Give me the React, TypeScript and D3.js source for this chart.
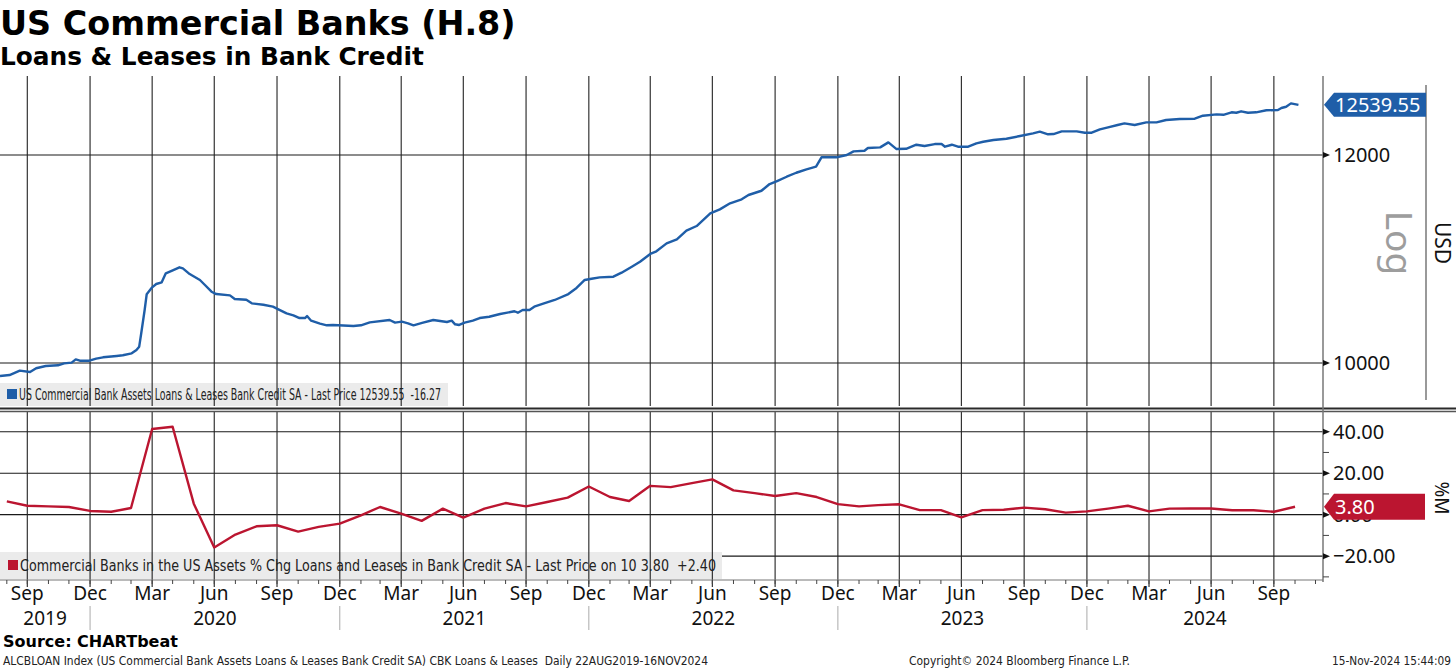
import React, { useEffect, useRef } from "react";
import * as d3 from "d3";

const WIDTH = 1456;
const HEIGHT = 669;

// US Commercial Bank Assets Loans & Leases Bank Credit SA (USD bn, weekly readings)
const loanDates = [
  "2019-08-22", "2019-09-05", "2019-09-20", "2019-10-05", "2019-10-14", "2019-10-28", "2019-11-15", "2019-11-24",
  "2019-12-05", "2019-12-11", "2019-12-17", "2019-12-31", "2020-01-10", "2020-01-20", "2020-02-09", "2020-02-18",
  "2020-03-02", "2020-03-09", "2020-03-13", "2020-03-16", "2020-03-21", "2020-03-24", "2020-04-01", "2020-04-07",
  "2020-04-15", "2020-04-21", "2020-05-02", "2020-05-11", "2020-05-16", "2020-05-26", "2020-06-10", "2020-06-17",
  "2020-06-27", "2020-07-04", "2020-07-24", "2020-07-31", "2020-08-17", "2020-08-25", "2020-09-11", "2020-09-25",
  "2020-10-03", "2020-10-15", "2020-10-25", "2020-11-03", "2020-11-11", "2020-11-14", "2020-11-20", "2020-12-03",
  "2020-12-13", "2020-12-22", "2021-01-21", "2021-02-01", "2021-02-14", "2021-03-15", "2021-03-23", "2021-04-02",
  "2021-04-11", "2021-04-19", "2021-05-03", "2021-05-18", "2021-06-07", "2021-06-14", "2021-06-19", "2021-06-25",
  "2021-07-03", "2021-07-15", "2021-07-25", "2021-08-08", "2021-08-24", "2021-09-14", "2021-09-19", "2021-09-26",
  "2021-10-06", "2021-10-13", "2021-10-25", "2021-11-12", "2021-12-02", "2021-12-14", "2021-12-26", "2022-01-05",
  "2022-01-17", "2022-02-06", "2022-02-18", "2022-03-05", "2022-03-17", "2022-04-01", "2022-04-10", "2022-04-25",
  "2022-05-10", "2022-05-24", "2022-06-08", "2022-06-28", "2022-07-12", "2022-07-27", "2022-08-13", "2022-08-23",
  "2022-09-11", "2022-09-23", "2022-10-03", "2022-10-18", "2022-11-01", "2022-11-16", "2022-11-30", "2022-12-08",
  "2022-12-30", "2023-01-14", "2023-01-24", "2023-02-09", "2023-02-14", "2023-03-04", "2023-03-16", "2023-03-28",
  "2023-04-11", "2023-04-26", "2023-05-08", "2023-05-23", "2023-06-02", "2023-06-07", "2023-06-17", "2023-06-26",
  "2023-07-11", "2023-07-23", "2023-08-02", "2023-08-17", "2023-09-05", "2023-09-25", "2023-10-14", "2023-10-24",
  "2023-11-05", "2023-11-13", "2023-11-25", "2023-12-17", "2023-12-29", "2024-01-08", "2024-01-20", "2024-02-01",
  "2024-02-15", "2024-02-25", "2024-03-11", "2024-03-28", "2024-04-12", "2024-04-26", "2024-05-16", "2024-06-07",
  "2024-06-19", "2024-07-09", "2024-07-19", "2024-07-31", "2024-08-07", "2024-08-14", "2024-08-24", "2024-09-05",
  "2024-09-20", "2024-10-07", "2024-10-12", "2024-10-19", "2024-10-26", "2024-11-06",
];
const loanValues = [
  9887, 9895, 9933, 9921, 9954, 9974, 9980, 9997,
  10003, 10032, 10020, 10020, 10038, 10050, 10062, 10068,
  10085, 10115, 10144, 10264, 10476, 10621, 10686, 10717,
  10733, 10818, 10849, 10875, 10865, 10811, 10755, 10710,
  10645, 10623, 10611, 10577, 10570, 10537, 10524, 10506,
  10482, 10445, 10427, 10402, 10402, 10420, 10378, 10351,
  10336, 10339, 10330, 10336, 10363, 10384, 10360, 10369,
  10354, 10336, 10360, 10384, 10366, 10378, 10345, 10339,
  10360, 10378, 10402, 10414, 10439, 10464, 10451, 10476,
  10476, 10506, 10531, 10568, 10623, 10680, 10755, 10767,
  10780, 10786, 10824, 10881, 10929, 11003, 11029, 11106,
  11145, 11230, 11276, 11402, 11442, 11503, 11543, 11587,
  11630, 11699, 11726, 11774, 11815, 11851, 11878, 11976,
  11976, 12000, 12039, 12045, 12074, 12081, 12134, 12063,
  12066, 12109, 12095, 12116, 12116, 12088, 12109, 12088,
  12088, 12124, 12141, 12159, 12173, 12202, 12230, 12248,
  12220, 12223, 12252, 12252, 12237, 12237, 12273, 12295,
  12320, 12338, 12320, 12349, 12349, 12374, 12385, 12388,
  12421, 12436, 12431, 12458, 12453, 12469, 12453, 12458,
  12480, 12483, 12505, 12519, 12555.82, 12539.55,
];

// Commercial Banks in the US Assets % Chg Loans and Leases in Bank Credit SA (monthly)
const chgMonths = [
  "2019-09", "2019-10", "2019-11", "2019-12",
  "2020-01", "2020-02", "2020-03", "2020-04", "2020-05", "2020-06", "2020-07", "2020-08", "2020-09", "2020-10", "2020-11", "2020-12",
  "2021-01", "2021-02", "2021-03", "2021-04", "2021-05", "2021-06", "2021-07", "2021-08", "2021-09", "2021-10", "2021-11", "2021-12",
  "2022-01", "2022-02", "2022-03", "2022-04", "2022-05", "2022-06", "2022-07", "2022-08", "2022-09", "2022-10", "2022-11", "2022-12",
  "2023-01", "2023-02", "2023-03", "2023-04", "2023-05", "2023-06", "2023-07", "2023-08", "2023-09", "2023-10", "2023-11", "2023-12",
  "2024-01", "2024-02", "2024-03", "2024-04", "2024-05", "2024-06", "2024-07", "2024-08", "2024-09", "2024-10", "2024-11",
];
const chgValues = [
  6.4, 4.3, 4.0, 3.7,
  1.8, 1.4, 3.2, 41.3, 42.4, 5.3, -15.8, -9.6, -5.6, -5.1, -8.2, -5.9,
  -4.3, -0.3, 3.7, 0.5, -3.0, 2.9, -1.4, 2.9, 5.6, 4.0, 6.1, 8.2,
  13.6, 8.5, 6.6, 13.9, 13.3, 15.2, 17.0, 11.7, 10.4, 9.0, 10.4, 8.5,
  5.1, 4.0, 4.6, 5.0, 2.2, 2.2, -1.3, 2.2, 2.4, 3.4, 2.6, 1.0,
  1.6, 2.9, 4.3, 1.6, 2.9, 3.0, 3.0, 2.1, 2.1, 1.4, 3.8,
];

const loanTicks = [10000, 12000];
const chgTicks = [-20, 0, 20, 40];
const chgMinorTicks = [-30, -10, 10, 30];
const years = [2019, 2020, 2021, 2022, 2023, 2024];

const loanLegend = "US Commercial Bank Assets Loans & Leases Bank Credit SA - Last Price 12539.55  -16.27";
const chgLegend = "Commercial Banks in the US Assets % Chg Loans and Leases in Bank Credit SA - Last Price on 10 3.80  +2.40";

const BLUE = "#1f5ea8";
const RED = "#bb1530";
const NARROW = "'Liberation Sans Narrow', 'DejaVu Sans Condensed', 'Noto Sans', sans-serif";
const LABEL = "'Noto Sans', 'Open Sans', sans-serif";
const HEAVY = "'DejaVu Sans', Verdana, sans-serif";

export default function App() {
  const svgRef = useRef<SVGSVGElement>(null);

  useEffect(() => {
    document.body.style.margin = "0";
    const svg = d3.select(svgRef.current);
    svg.selectAll("*").remove();

    const plotRight = 1323;
    const top = { y0: 76, y1: 406 };
    const bot = { y0: 412, y1: 580 };

    const parseDay = d3.timeParse("%Y-%m-%d");
    const parseMonth = d3.timeParse("%Y-%m");

    const x = d3
      .scaleTime()
      .domain([new Date(2019, 7, 22), new Date(2024, 11, 12)])
      .range([0, plotRight]);
    const yTop = d3.scaleLog().domain([9630, 12861]).range([top.y1, top.y0]);
    const yBot = d3.scaleLinear().domain([-31.5, 49.5]).range([bot.y1, bot.y0]);

    const loans = loanDates.map((d, i) => ({ date: parseDay(d) as Date, value: loanValues[i] }));
    const chg = chgMonths.map((d, i) => ({ date: parseMonth(d) as Date, value: chgValues[i] }));

    // gridlines sit at the end of the labelled month
    const quarterEnds = d3.timeMonth.range(new Date(2019, 9, 1), new Date(2024, 10, 1), 3);
    const monthTicks = d3.timeMonth.range(new Date(2019, 8, 1), new Date(2024, 11, 2));
    const yearStarts = years.slice(1).map((y) => new Date(y, 0, 1));
    const monthName = d3.timeFormat("%b");

    // horizontal grid
    svg.append("g")
      .selectAll("line")
      .data(loanTicks)
      .enter()
      .append("line")
      .attr("x1", 0)
      .attr("x2", plotRight)
      .attr("y1", (d) => yTop(d))
      .attr("y2", (d) => yTop(d))
      .attr("stroke", "#1a1a1a")
      .attr("stroke-width", 1.1);

    svg.append("g")
      .selectAll("line")
      .data(chgTicks)
      .enter()
      .append("line")
      .attr("x1", 0)
      .attr("x2", plotRight)
      .attr("y1", (d) => yBot(d))
      .attr("y2", (d) => yBot(d))
      .attr("stroke", "#1a1a1a")
      .attr("stroke-width", 1.1);

    // legend boxes
    svg.append("rect").attr("x", 0).attr("y", 383).attr("width", 448).attr("height", 23).attr("fill", "#ebebeb");
    svg.append("rect").attr("x", 0).attr("y", 552).attr("width", 722).attr("height", 27).attr("fill", "#ebebeb");

    // vertical grid
    const vg = svg.append("g");
    quarterEnds.forEach((d) => {
      vg.append("line")
        .attr("x1", x(d)).attr("x2", x(d))
        .attr("y1", top.y0).attr("y2", top.y1)
        .attr("stroke", "#222").attr("stroke-width", 1.1);
      vg.append("line")
        .attr("x1", x(d)).attr("x2", x(d))
        .attr("y1", bot.y0).attr("y2", bot.y1 + 7)
        .attr("stroke", "#222").attr("stroke-width", 1.1);
    });

    // bottom axis
    svg.append("line")
      .attr("x1", 0).attr("x2", plotRight)
      .attr("y1", bot.y1).attr("y2", bot.y1)
      .attr("stroke", "#777").attr("stroke-width", 1);
    svg.append("g")
      .selectAll("line")
      .data(monthTicks)
      .enter()
      .append("line")
      .attr("x1", (d) => x(d)).attr("x2", (d) => x(d))
      .attr("y1", bot.y1).attr("y2", bot.y1 + 4)
      .attr("stroke", "#444");

    svg.append("g")
      .selectAll("text")
      .data(quarterEnds)
      .enter()
      .append("text")
      .attr("x", (d) => x(d))
      .attr("y", 600)
      .attr("text-anchor", "middle")
      .style("font-family", LABEL)
      .style("font-size", "19px")
      .attr("fill", "#111")
      .text((d) => monthName(d3.timeMonth.offset(d, -1)));

    svg.append("g")
      .selectAll("line")
      .data(yearStarts)
      .enter()
      .append("line")
      .attr("x1", (d) => x(d)).attr("x2", (d) => x(d))
      .attr("y1", 606).attr("y2", 630)
      .attr("stroke", "#aaa");

    const yearBounds = [0, ...yearStarts.map((d) => x(d)), plotRight];
    svg.append("g")
      .selectAll("text")
      .data(years)
      .enter()
      .append("text")
      .attr("x", (d, i) => (yearBounds[i] + yearBounds[i + 1]) / 2)
      .attr("y", 625)
      .attr("text-anchor", "middle")
      .style("font-family", LABEL)
      .style("font-size", "19px")
      .attr("fill", "#111")
      .text((d) => String(d));

    // series
    const loanLine = d3
      .line<{ date: Date; value: number }>()
      .x((d) => x(d.date))
      .y((d) => yTop(d.value));
    svg.append("path")
      .datum(loans)
      .attr("d", loanLine)
      .attr("fill", "none")
      .attr("stroke", BLUE)
      .attr("stroke-width", 2.4)
      .attr("stroke-linejoin", "round");

    const chgLine = d3
      .line<{ date: Date; value: number }>()
      .x((d) => x(d.date))
      .y((d) => yBot(d.value));
    svg.append("path")
      .datum(chg)
      .attr("d", chgLine)
      .attr("fill", "none")
      .attr("stroke", RED)
      .attr("stroke-width", 2.4)
      .attr("stroke-linejoin", "round");

    // separator between panels
    svg.append("line").attr("x1", 0).attr("x2", WIDTH).attr("y1", 408.5).attr("y2", 408.5)
      .attr("stroke", "#2a2a2a").attr("stroke-width", 2);
    svg.append("line").attr("x1", 0).attr("x2", WIDTH).attr("y1", 411.5).attr("y2", 411.5)
      .attr("stroke", "#555").attr("stroke-width", 1.4);

    // right axis
    svg.append("line").attr("x1", plotRight).attr("x2", plotRight).attr("y1", top.y0).attr("y2", bot.y1 + 2)
      .attr("stroke", "#777").attr("stroke-width", 1.5);
    svg.append("line").attr("x1", 1426).attr("x2", 1426).attr("y1", 85).attr("y2", 400)
      .attr("stroke", "#777").attr("stroke-width", 1.5);

    const arrow = (y: number) => `M${plotRight},${y - 3}L${plotRight + 7},${y}L${plotRight},${y + 3}Z`;
    loanTicks.forEach((v) => {
      svg.append("path").attr("d", arrow(yTop(v))).attr("fill", "#111");
      svg.append("text")
        .attr("x", 1333).attr("y", yTop(v)).attr("dy", "0.36em")
        .style("font-family", LABEL).style("font-size", "20px").attr("fill", "#111")
        .text(d3.format("d")(v));
    });
    chgTicks.forEach((v) => {
      svg.append("path").attr("d", arrow(yBot(v))).attr("fill", "#111");
      svg.append("text")
        .attr("x", 1333).attr("y", yBot(v)).attr("dy", "0.36em")
        .style("font-family", LABEL).style("font-size", "20px").attr("fill", "#111")
        .text(d3.format(".2f")(v));
    });
    chgMinorTicks.forEach((v) => {
      svg.append("line")
        .attr("x1", plotRight).attr("x2", plotRight + 6)
        .attr("y1", yBot(v)).attr("y2", yBot(v))
        .attr("stroke", "#444");
    });

    // last value tags
    const tag = (y: number, h: number, right: number) =>
      `M${plotRight + 1},${y}L${plotRight + 11},${y - h}L${right},${y - h}L${right},${y + h}L${plotRight + 11},${y + h}Z`;
    const lastLoan = loanValues[loanValues.length - 1];
    const lastChg = chgValues[chgValues.length - 1];
    svg.append("path").attr("d", tag(yTop(lastLoan), 12, 1426)).attr("fill", BLUE);
    svg.append("text")
      .attr("x", 1335).attr("y", yTop(lastLoan)).attr("dy", "0.36em")
      .style("font-family", LABEL).style("font-size", "20px").attr("fill", "#fff")
      .text(d3.format(".2f")(lastLoan));
    svg.append("path").attr("d", tag(yBot(lastChg), 13, 1425)).attr("fill", RED);
    svg.append("text")
      .attr("x", 1335).attr("y", yBot(lastChg)).attr("dy", "0.36em")
      .style("font-family", LABEL).style("font-size", "20px").attr("fill", "#fff")
      .text(d3.format(".2f")(lastChg));

    // axis titles
    svg.append("text")
      .attr("transform", "translate(1386,243) rotate(90)")
      .attr("text-anchor", "middle")
      .style("font-family", LABEL).style("font-size", "37px").attr("fill", "#9d9d9d")
      .text("Log");
    svg.append("text")
      .attr("transform", "translate(1435,243) rotate(90)")
      .attr("text-anchor", "middle")
      .style("font-family", LABEL).style("font-size", "21px").attr("fill", "#111")
      .text("USD");
    svg.append("text")
      .attr("transform", "translate(1435,498) rotate(90)")
      .attr("text-anchor", "middle")
      .style("font-family", LABEL).style("font-size", "19px").attr("fill", "#111")
      .text("%M");

    // legends
    svg.append("rect").attr("x", 7).attr("y", 389).attr("width", 10).attr("height", 10).attr("fill", BLUE);
    svg.append("text")
      .attr("x", 19).attr("y", 400)
      .attr("textLength", 422).attr("lengthAdjust", "spacingAndGlyphs")
      .style("font-family", NARROW).style("font-size", "15px").style("white-space", "pre")
      .attr("fill", "#222")
      .text(loanLegend);
    svg.append("rect").attr("x", 8).attr("y", 560).attr("width", 10).attr("height", 10).attr("fill", RED);
    svg.append("text")
      .attr("x", 20).attr("y", 571)
      .attr("textLength", 696).attr("lengthAdjust", "spacingAndGlyphs")
      .style("font-family", NARROW).style("font-size", "15px").style("white-space", "pre")
      .attr("fill", "#222")
      .text(chgLegend);

    // titles
    svg.append("text")
      .attr("x", 0).attr("y", 35)
      .style("font-family", HEAVY).style("font-size", "33.4px").style("font-weight", "bold")
      .attr("fill", "#000")
      .text("US Commercial Banks (H.8)");
    svg.append("text")
      .attr("x", 0).attr("y", 65)
      .style("font-family", HEAVY).style("font-size", "24.8px").style("font-weight", "bold")
      .attr("fill", "#000")
      .text("Loans & Leases in Bank Credit");

    // footer
    svg.append("text")
      .attr("x", 3).attr("y", 647)
      .style("font-family", HEAVY).style("font-size", "16px").style("font-weight", "bold")
      .attr("fill", "#000")
      .text("Source: CHARTbeat");
    const foot = (t: string, xPos: number, len: number) =>
      svg.append("text")
        .attr("x", xPos).attr("y", 665)
        .attr("textLength", len).attr("lengthAdjust", "spacingAndGlyphs")
        .style("font-family", NARROW).style("font-size", "12px").style("white-space", "pre")
        .attr("fill", "#222")
        .text(t);
    foot("ALCBLOAN Index (US Commercial Bank Assets Loans & Leases Bank Credit SA) CBK Loans & Leases  Daily 22AUG2019-16NOV2024", 3, 705);
    foot("Copyright\u00a9 2024 Bloomberg Finance L.P.", 909, 221);
    foot("15-Nov-2024 15:44:09", 1332, 119);
  }, []);

  return (
    <svg
      ref={svgRef}
      width={WIDTH}
      height={HEIGHT}
      style={{ display: "block", background: "#fff" }}
    />
  );
}
